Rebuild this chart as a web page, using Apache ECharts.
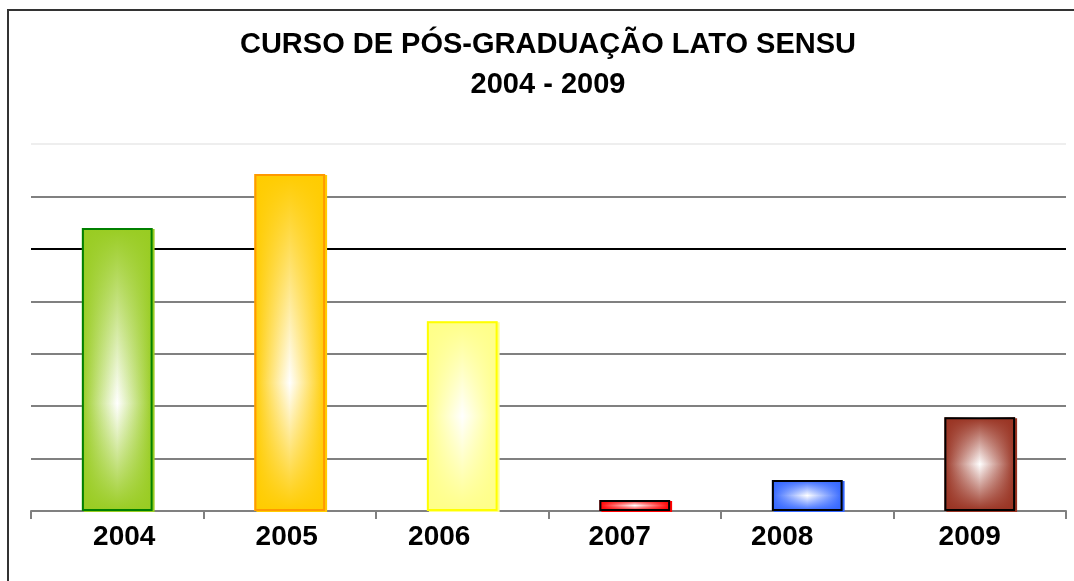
<!DOCTYPE html>
<html>
<head>
<meta charset="utf-8">
<title>Curso de Pós-Graduação Lato Sensu</title>
<script src="https://cdn.jsdelivr.net/npm/echarts@6/dist/echarts.min.js"></script>
<style>
  html, body { margin: 0; padding: 0; background: #fff; }
  #chart { width: 1074px; height: 581px; }
</style>
</head>
<body>
<div id="chart"></div>
<script>
// dados (unidades das linhas de grade)
const anos = ['2004', '2005', '2006', '2007', '2008', '2009']
const valores = [5.40, 6.43, 3.62, 0.21, 0.59, 1.79]

// cores de cada barra
const preenchimento = ['#99cc22', '#ffcc00', '#ffff88', '#ff0000', '#3366ff', '#993322']
const contorno = ['#008000', '#ff9900', '#ffff00', '#000000', '#000000', '#000000']
const centroV = [0.62, 0.62, 0.5, 0.5, 0.5, 0.5]
// deslocamento horizontal dos rótulos no original (px)
const deslocRotulo = [7, -3, -23, -15, -25, -10]

function hexA(hex, a) {
  const n = parseInt(hex.slice(1), 16)
  return `rgba(${(n >> 16) & 255},${(n >> 8) & 255},${n & 255},${a})`
}

const categorias = anos.map((a, i) => {
  const d = deslocRotulo[i]
  return {
    value: a,
    textStyle: { padding: d >= 0 ? [0, 0, 0, 2 * d] : [0, -2 * d, 0, 0] }
  }
})

// camada de baixo: degradê horizontal cor -> branco -> cor
const base = valores.map((v, i) => ({
  value: v,
  itemStyle: {
    color: {
      type: 'linear', x: 0, y: 0, x2: 1, y2: 0,
      colorStops: [
        { offset: 0, color: preenchimento[i] },
        { offset: 0.5, color: '#ffffff' },
        { offset: 1, color: preenchimento[i] }
      ]
    },
    shadowColor: preenchimento[i],
    shadowOffsetX: 2,
    shadowOffsetY: 1
  }
}))

// camada de cima: degradê vertical cor -> transparente -> cor, com contorno
const topo = valores.map((v, i) => ({
  value: v,
  itemStyle: {
    color: {
      type: 'linear', x: 0, y: 0, x2: 0, y2: 1,
      colorStops: [
        { offset: 0, color: hexA(preenchimento[i], 1) },
        { offset: centroV[i], color: hexA(preenchimento[i], 0) },
        { offset: 1, color: hexA(preenchimento[i], 1) }
      ]
    },
    borderColor: contorno[i],
    borderWidth: 2
  }
}))

const chart = echarts.init(document.getElementById('chart'))

chart.setOption({
  animation: false,
  backgroundColor: '#ffffff',
  title: {
    text: 'CURSO DE PÓS-GRADUAÇÃO LATO SENSU\n2004 - 2009',
    left: 543,
    top: 20,
    textAlign: 'center',
    textStyle: {
      fontFamily: 'Liberation Sans, Arial, sans-serif',
      fontSize: 29,
      fontWeight: 'bold',
      color: '#000',
      lineHeight: 40
    }
  },
  graphic: [
    {
      type: 'polyline',
      shape: { points: [[8, 581], [8, 10], [1074, 10]] },
      style: { stroke: '#333', lineWidth: 2, fill: null }
    }
  ],
  grid: { left: 31, right: 8, top: 144, bottom: 70, containLabel: false },
  xAxis: {
    type: 'category',
    data: categorias,
    axisLine: { lineStyle: { color: '#808080', width: 2 } },
    axisTick: { show: true, length: 8, lineStyle: { color: '#808080', width: 2 } },
    axisLabel: {
      margin: 12,
      fontFamily: 'Liberation Sans, Arial, sans-serif',
      fontSize: 28,
      fontWeight: 'bold',
      color: '#000'
    }
  },
  yAxis: {
    type: 'value',
    min: 0,
    max: 7,
    interval: 1,
    axisLine: { show: false },
    axisTick: { show: false },
    axisLabel: { show: false },
    splitLine: {
      lineStyle: {
        color: ['#808080', '#808080', '#808080', '#808080', '#808080', '#000000', '#808080', '#eeeeee'],
        width: 2
      }
    }
  },
  series: [
    {
      type: 'bar',
      data: base,
      barWidth: '41%',
      silent: true
    },
    {
      type: 'bar',
      data: topo,
      barWidth: '41%',
      barGap: '-100%',
      silent: true
    }
  ]
})
</script>
</body>
</html>
